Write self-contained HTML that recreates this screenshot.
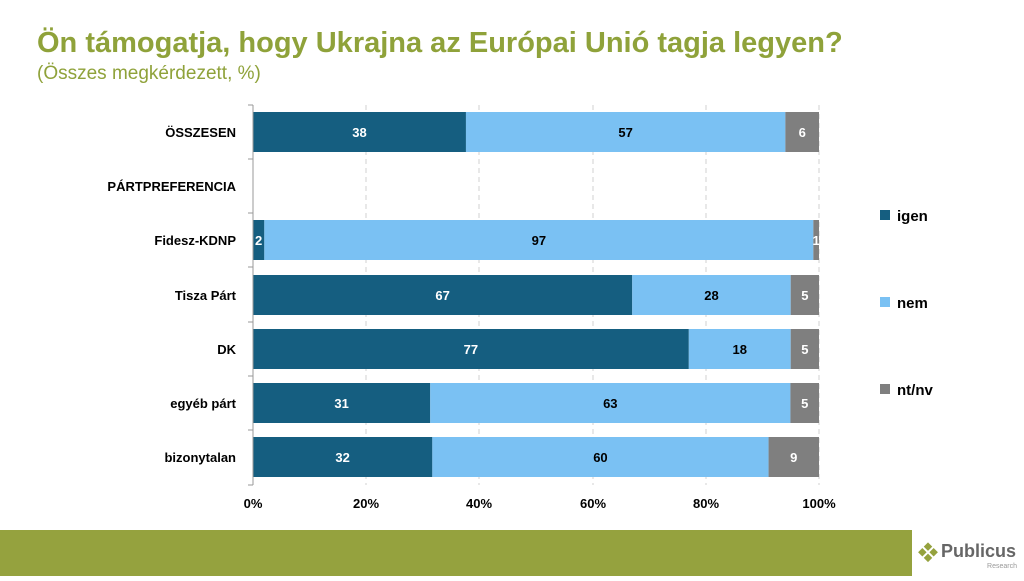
<!DOCTYPE html>
<html><head><meta charset="utf-8"><style>
body{margin:0;width:1024px;height:576px;overflow:hidden;background:#fff;font-family:"Liberation Sans",sans-serif}
</style></head><body>
<svg width="1024" height="576" xmlns="http://www.w3.org/2000/svg" font-family="Liberation Sans, sans-serif">
<text x="37" y="52" font-size="29" font-weight="bold" fill="#8fa23a">Ön támogatja, hogy Ukrajna az Európai Unió tagja legyen?</text>
<text x="37" y="79" font-size="19" fill="#8fa23a">(Összes megkérdezett, %)</text>
<g stroke="#d0d0d0" stroke-dasharray="5,4" stroke-width="1">
<line x1="366" y1="105" x2="366" y2="485"/><line x1="479" y1="105" x2="479" y2="485"/><line x1="593" y1="105" x2="593" y2="485"/><line x1="706" y1="105" x2="706" y2="485"/><line x1="819" y1="105" x2="819" y2="485"/>
</g>
<g id="bars" font-size="13" font-weight="bold" text-anchor="middle"></g>
<g stroke="#999" stroke-width="1">
<line x1="253" y1="105" x2="253" y2="485"/>
<line x1="248" y1="105" x2="253" y2="105"/><line x1="248" y1="159" x2="253" y2="159"/><line x1="248" y1="213" x2="253" y2="213"/><line x1="248" y1="267" x2="253" y2="267"/><line x1="248" y1="322" x2="253" y2="322"/><line x1="248" y1="376" x2="253" y2="376"/><line x1="248" y1="430" x2="253" y2="430"/><line x1="248" y1="485" x2="253" y2="485"/>
</g>
<g font-size="13" font-weight="bold" text-anchor="end" fill="#000">
<text x="236" y="137">ÖSSZESEN</text><text x="236" y="191">PÁRTPREFERENCIA</text><text x="236" y="245">Fidesz-KDNP</text><text x="236" y="300">Tisza Párt</text><text x="236" y="354">DK</text><text x="236" y="408">egyéb párt</text><text x="236" y="462">bizonytalan</text>
</g>
<g font-size="13" font-weight="bold" text-anchor="middle">
<text x="253" y="508">0%</text><text x="366" y="508">20%</text><text x="479" y="508">40%</text><text x="593" y="508">60%</text><text x="706" y="508">80%</text><text x="819" y="508">100%</text>
</g>
<g font-size="15" font-weight="bold">
<rect x="880" y="210" width="10" height="10" fill="#155e80"/><text x="897" y="221">igen</text>
<rect x="880" y="297" width="10" height="10" fill="#7ac1f3"/><text x="897" y="308">nem</text>
<rect x="880" y="384" width="10" height="10" fill="#7f7f7f"/><text x="897" y="395">nt/nv</text>
</g>
<rect x="0" y="530" width="912" height="46" fill="#95a23e"/>
<g transform="translate(928,548) rotate(45)">
<rect x="-4" y="-4" width="6" height="6" fill="#95a23e"/><rect x="4" y="-4" width="6" height="6" fill="#95a23e"/><rect x="-4" y="4" width="6" height="6" fill="#95a23e"/><rect x="4" y="4" width="6" height="6" fill="#95a23e"/>
</g>
<text x="941" y="557" font-size="18" font-weight="bold" fill="#666">Publicus</text>
<text x="1017" y="568" font-size="7" fill="#999" text-anchor="end">Research</text>
</svg>
<script>
var data=[[38,57,6,132],[2,97,1,240],[67,28,5,295],[77,18,5,349],[31,63,5,403],[32,60,9,457]];
var cols=["#155e80","#7ac1f3","#7f7f7f"],tc=["#fff","#000","#fff"];
var g=document.getElementById("bars"),ns="http://www.w3.org/2000/svg",h="";
data.forEach(function(d){var tot=d[0]+d[1]+d[2],x=253;for(var i=0;i<3;i++){var w=d[i]/tot*566;
h+='<rect x="'+x+'" y="'+(d[3]-20)+'" width="'+w+'" height="40" fill="'+cols[i]+'"/>';
var cx=x+w/2;if(w<8)cx=(i==0)?x+4:x+w/2;
h+='<text x="'+cx+'" y="'+(d[3]+5)+'" fill="'+tc[i]+'">'+d[i]+'</text>';x+=w;}});
g.innerHTML=h;
</script>
</body></html>
